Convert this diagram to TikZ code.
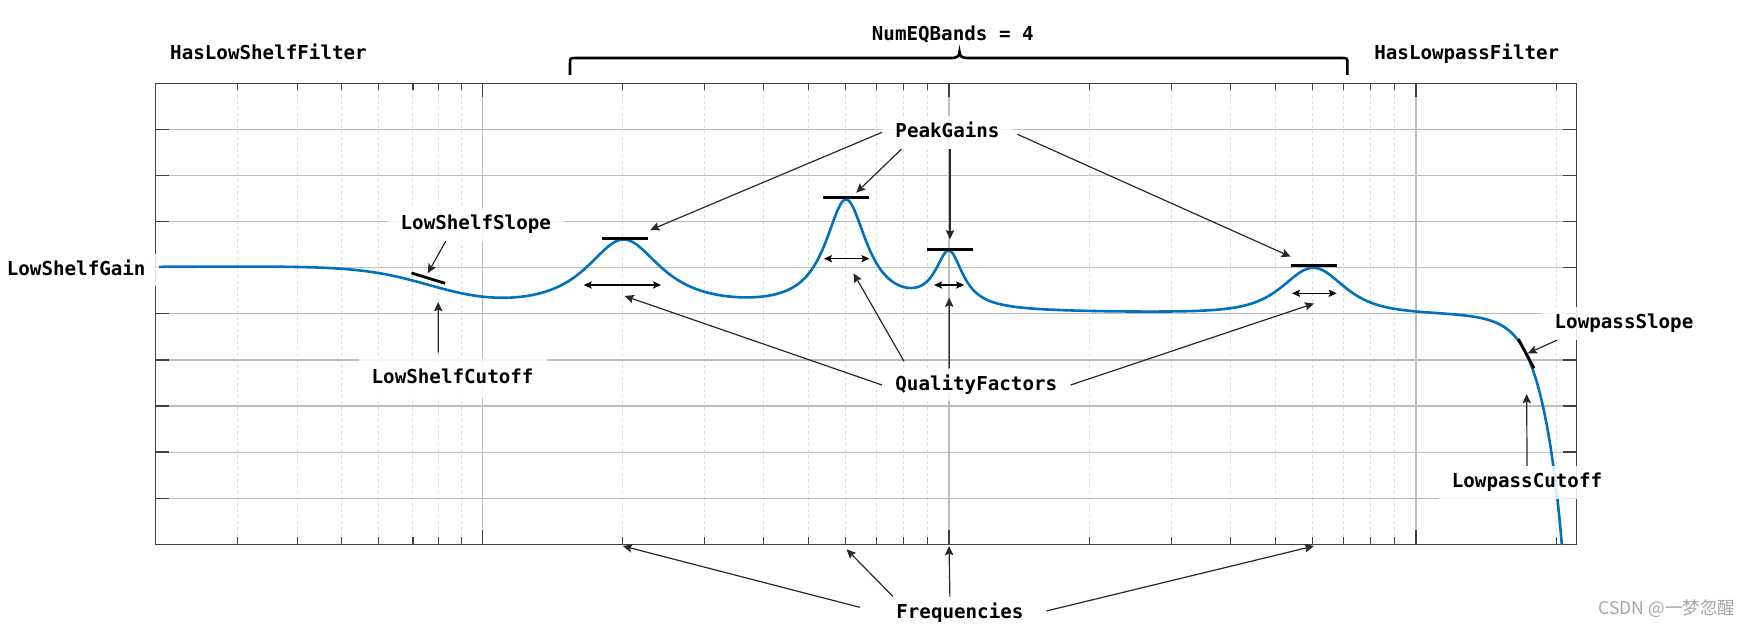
\documentclass[tikz,border=0pt]{standalone}
\usepackage{fontspec}
\newfontfamily\labfont{DejaVu Sans Mono}
\newfontfamily\cjkfont{Noto Sans CJK SC}
\usepackage{tikz}
\usetikzlibrary{arrows.meta}
\definecolor{eqblue}{RGB}{0,114,189}
\definecolor{gridgray}{RGB}{190,190,190}
\definecolor{minorgray}{RGB}{220,220,220}
\definecolor{axisgray}{RGB}{64,64,64}
\definecolor{inkgray}{RGB}{40,40,40}

\tikzset{
  lbl/.style={font=\labfont\bfseries\fontsize{9.6pt}{11pt}\selectfont, inner sep=0pt, anchor=base},
  tag/.style={lbl, fill=white, fill opacity=0.85, text opacity=1,
    inner xsep=6.5pt, inner ysep=3.5pt, text height=7.2pt, text depth=2.2pt},
  ann/.style={draw=inkgray, line width=0.6pt, -{Stealth[length=4.6pt,width=4.2pt,inset=0.8pt]}},
  qfarrow/.style={draw=black, line width=0.6pt,
    {Stealth[length=4pt,width=3.6pt,inset=0.8pt]}-{Stealth[length=4pt,width=3.6pt,inset=0.8pt]}},
  gainbar/.style={black, line width=1.5pt},
  slopebar/.style={black, line width=1.4pt},
  response/.style={eqblue, line width=1.3pt, line join=round},
  gridmaj/.style={gridgray, line width=0.6pt},
  gridmin/.style={minorgray, line width=0.5pt, dash pattern=on 1.5pt off 1.5pt},
  axisline/.style={axisgray, line width=0.65pt},
  bandbrace/.style={black, line width=1.3pt}
}

\begin{document}
\begin{tikzpicture}[x=0.5pt, y=-0.5pt,
  declare function={
    fx(\f)=949+202.81*ln(\f);
    sq(\t)=(\t)*(\t);
    lor(\x,\c,\w)=1/(1+sq((\x-\c)/\w));
    shelf(\x)=46.1/(1+exp(max(-15,min(9,-(\x-433)/36))));
    tq(\x)=tan(4.0816*pow(10,(\x-949)/467))/2.535;
    lowp(\x)=45*ln(1+sq(sq(tq(\x))));
    gain(\x)=267.7+shelf(\x)-72.5*lor(\x,623.5,47)-109.8*lor(\x,846,25.5)
      -55.5*lor(\x,949,17)-45.3*sq(lor(\x,1313.3,56))+lowp(\x);
  }]
\useasboundingbox (0,0) rectangle (1751,626);

% Grid
\foreach \f in {0.03,0.04,0.05,0.06,0.07,0.08,0.09,0.2,0.3,0.4,0.5,0.6,0.7,0.8,0.9,2,3,4,5,6,7,8,9,20}
  \draw[gridmin] ({fx(\f)},83.3) -- ({fx(\f)},544.3);
\foreach \f in {0.1,1,10}
  \draw[gridmaj] ({fx(\f)},83.3) -- ({fx(\f)},544.3);
\foreach \k in {1,...,9}
  \draw[gridmaj] (155.6,{83.3+46.1*\k}) -- (1576.4,{83.3+46.1*\k});

% Ticks and box
\foreach \f in {0.03,0.04,0.05,0.06,0.07,0.08,0.09,0.2,0.3,0.4,0.5,0.6,0.7,0.8,0.9,2,3,4,5,6,7,8,9,20} {
  \draw[axisline] ({fx(\f)},83.3) -- ++(0,7);
  \draw[axisline] ({fx(\f)},544.3) -- ++(0,-7);
}
\foreach \f in {0.1,1,10} {
  \draw[axisline] ({fx(\f)},83.3) -- ++(0,14);
  \draw[axisline] ({fx(\f)},544.3) -- ++(0,-14);
}
\foreach \k in {1,...,9} {
  \draw[axisline] (155.6,{83.3+46.1*\k}) -- ++(13,0);
  \draw[axisline] (1576.4,{83.3+46.1*\k}) -- ++(-13,0);
}
\draw[axisline] (155.6,83.3) rectangle (1576.4,544.3);

% Response curve
\begin{scope}
  \clip (155.6,83.3) rectangle (1576.4,544.3);
  \draw[response] plot[domain=155.6:1566, samples=800] (\x,{gain(\x)});
\end{scope}

% Peak gain bars and quality factor spans
\foreach \c/\yb/\qc/\hw/\yq in {624.6/238.3/622.4/38.6/285, 846/197.5/846.7/22.7/258.7,
    949.7/249.2/949.1/15/285, 1313.7/265.8/1314.4/22.3/293.3} {
  \draw[gainbar] ({\c-22.9},\yb) -- ({\c+22.9},\yb);
  \draw[qfarrow] ({\qc-\hw},\yq) -- ({\qc+\hw},\yq);
}

% Slope marks
\draw[slopebar] (411.5,273) -- (445,283.3);
\draw[slopebar] (1518.3,339) -- (1534,368.3);

% Band brace
\draw[bandbrace] (570,75) -- (570,64) .. controls (570,58) .. (576,58) -- (952,58)
  .. controls (957,58) and (959.5,56) .. (959.5,52)
  .. controls (959.5,56) and (962,58) .. (967,58) -- (1341.4,58)
  .. controls (1347.4,58) .. (1347.4,64) -- (1347.4,75);

% Labels
\node[lbl] (hasLS) at (268.5,59.5) {HasLowShelfFilter};
\node[lbl] (numEQ) at (952.8,40.7) {NumEQBands = 4};
\node[lbl] (hasLP) at (1466.8,59.5) {HasLowpassFilter};
\node[tag] (LSG) at (76.2,275) {LowShelfGain};
\node[tag] (LSS) at (475.8,229.3) {LowShelfSlope};
\node[tag, inner ysep=5pt] (LSC) at (452.6,383.3) {LowShelfCutoff};
\node[tag] (PG) at (947.5,137.3) {PeakGains};
\node[tag] (QF) at (976.3,390) {QualityFactors};
\node[tag] (Fq) at (959.9,618.3) {Frequencies};
\node[tag] (LPS) at (1624,328.3) {LowpassSlope};
\node[tag] (LPC) at (1527,487.7) {LowpassCutoff};
\node[font=\cjkfont\fontsize{8.8pt}{10pt}\selectfont, text=black!35, anchor=base, inner sep=0pt]
  (wmark) at (1667,614.3) {CSDN @一梦忽醒};

% Arrow targets
\coordinate (pg1) at (650.3,230);
\coordinate (pg2) at (856.2,192.7);
\coordinate (pg3) at (950,239.3);
\coordinate (pg4) at (1290.7,256.7);
\coordinate (qf1) at (624.6,296);
\coordinate (qf2) at (853.5,273.3);
\coordinate (qf3) at (949.2,297.7);
\coordinate (qf4) at (1314,303.5);
\coordinate (fq1) at ({fx(0.2)},546);
\coordinate (fq2) at (846.6,549.3);
\coordinate (fq3) at ({fx(1)},546);
\coordinate (fq4) at (1314,546);
\coordinate (lss) at (427.7,273.3);
\coordinate (lsc) at (438.2,302);
\coordinate (lps) at (1527.7,353.3);
\coordinate (lpc) at (1526.7,394);

% Arrows
\draw[ann] (PG.west) -- (pg1);
\draw[ann] ([xshift=-23pt]PG.south) -- (pg2);
\draw[ann] ([xshift=1.25pt]PG.south) -- (pg3);
\draw[ann, shorten <=2.5pt] (PG.east) -- (pg4);
\draw[ann] (QF.west) -- (qf1);
\draw[ann, shorten <=4pt] ([xshift=13pt]QF.north west) -- (qf2);
\draw[ann] ([xshift=-13.5pt]QF.north) -- (qf3);
\draw[ann] (QF.east) -- (qf4);
\draw[ann, shorten <=12pt] (Fq.west) -- (fq1);
\draw[ann] ([xshift=5pt]Fq.north west) -- (fq2);
\draw[ann] ([xshift=-5pt]Fq.north) -- (fq3);
\draw[ann, shorten <=5pt] (Fq.east) -- (fq4);
\draw[ann] ([xshift=-15pt]LSS.south) -- (lss);
\draw[ann, shorten <=3pt] ([xshift=-7.2pt]LSC.north) -- (lsc);
\draw[ann] ([xshift=8pt]LPS.south west) -- (lps);
\draw[ann] (LPC.north) -- (lpc);
\end{tikzpicture}
\end{document}
